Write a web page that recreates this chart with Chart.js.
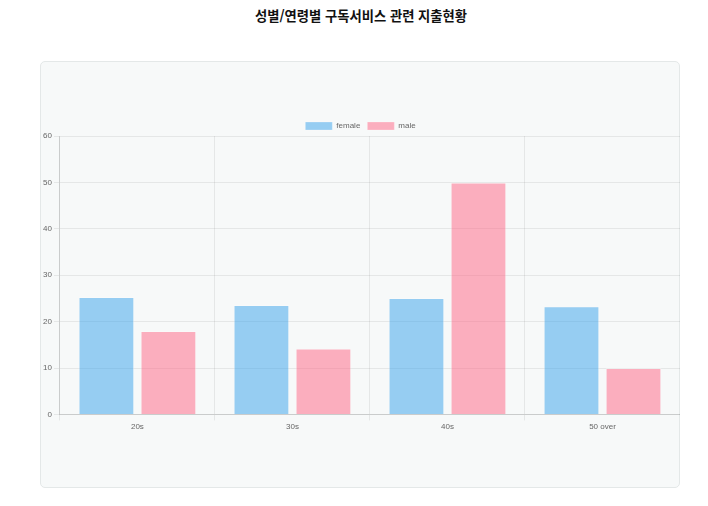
<!DOCTYPE html>
<html lang="ko">
<head>
<meta charset="utf-8">
<script src="https://cdn.jsdelivr.net/npm/chart.js@4/dist/chart.umd.min.js"></script>
<style>
  body { margin: 0; background: #fff; font-family: "Noto Sans CJK KR", sans-serif; }
  h1 { margin: 0; position: absolute; top: 6px; left: 7px; width: 708px; text-align: center; font-size: 13.3px; font-weight: bold; color: #111; }
  .card { position: absolute; left: 40px; top: 61px; width: 638px; height: 425px; background: #f7f9f9; border: 1px solid #e4e8e8; border-radius: 5px; }
  .wrap { position: absolute; left: 0; top: 53px; width: 639px; height: 319px; }
</style>
</head>
<body>
<h1>성별/연령별 구독서비스 관련 지출현황</h1>
<div class="card">
  <div class="wrap"><canvas id="chart"></canvas></div>
</div>
<script>
  const ageGroups = ['20s', '30s', '40s', '50 over'];
  const femaleSpend = [25.3, 23.6, 25.1, 23.3];
  const maleSpend = [18, 14.2, 50, 10];

  Chart.defaults.font.family = "'Liberation Sans', Arial, sans-serif";
  Chart.defaults.font.size = 8;
  Chart.defaults.color = '#666';

  // legend sits a bit closer to the plot than the default
  const tightLegend = {
    id: 'tightLegend',
    beforeInit(chart) {
      const fit = chart.legend.fit;
      chart.legend.fit = function () {
        fit.call(this);
        this.height -= 4;
      };
    }
  };

  const gridColor = 'rgba(0, 0, 0, 0.07)';

  const ctx = document.getElementById('chart').getContext('2d');
  new Chart(ctx, {
    type: 'bar',
    data: {
      labels: ageGroups,
      datasets: [
        {
          label: 'female',
          data: femaleSpend,
          backgroundColor: 'rgba(54, 162, 235, 0.5)',
          borderColor: 'rgba(255, 255, 255, 0.25)',
          borderWidth: 1
        },
        {
          label: 'male',
          data: maleSpend,
          backgroundColor: 'rgba(255, 99, 132, 0.5)',
          borderColor: 'rgba(255, 255, 255, 0.25)',
          borderWidth: 1
        }
      ]
    },
    options: {
      responsive: true,
      maintainAspectRatio: false,
      animation: false,
      plugins: {
        legend: {
          labels: { boxWidth: 27, boxHeight: 8, padding: 7 }
        }
      },
      scales: {
        x: {
          grid: { tickLength: 6, color: gridColor },
          border: { color: 'rgba(0, 0, 0, 0.12)' },
          ticks: { padding: 2 }
        },
        y: {
          min: 0,
          max: 60,
          grid: { tickLength: 6, color: gridColor },
          border: { color: 'rgba(0, 0, 0, 0.12)' },
          ticks: { stepSize: 10, padding: 2 }
        }
      }
    },
    plugins: [tightLegend]
  });
</script>
</body>
</html>
